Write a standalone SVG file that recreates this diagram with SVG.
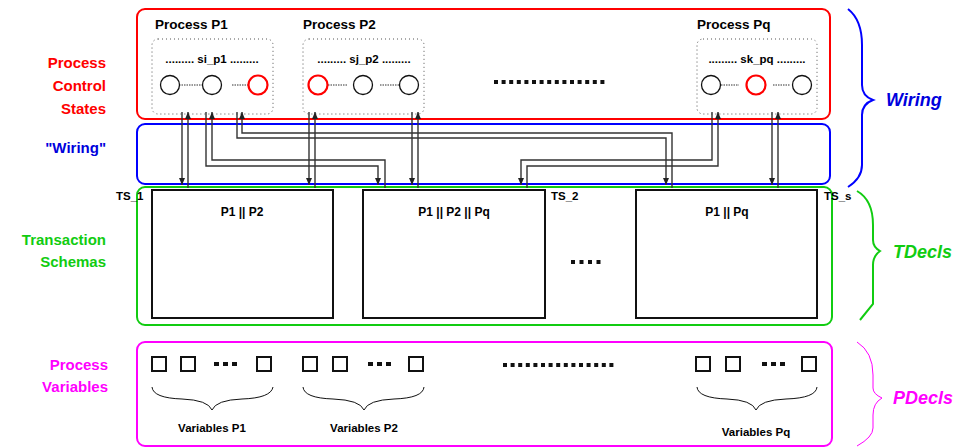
<svg xmlns="http://www.w3.org/2000/svg" width="961" height="447" viewBox="0 0 961 447">
<defs>
<marker id="ah" markerUnits="userSpaceOnUse" markerWidth="7" markerHeight="6" refX="7" refY="3" orient="auto"><path d="M0,0 L7,3 L0,6 z" fill="#222"/></marker>
<style>
text{font-family:"Liberation Sans",Arial,sans-serif;font-weight:bold}
.lab{font-size:15px;text-anchor:end}
.hd{font-size:13.5px}
.st{font-size:11.5px;text-anchor:middle}
.ts{font-size:11.5px}
.bx{font-size:12px;text-anchor:middle}
.br{font-size:18px;font-style:italic}
.dot{fill:none;stroke:#555;stroke-width:1;stroke-dasharray:1 3}
.c{fill:#fff;stroke:#111;stroke-width:1.3}
.cr{fill:#fff;stroke:#f00;stroke-width:2.2}
.cl{stroke:#333;stroke-width:1;stroke-dasharray:1.5 1}
.w{fill:none;stroke:#333;stroke-width:1.4}
.sq{fill:#fff;stroke:#111;stroke-width:2}
.tsb{fill:#fff;stroke:#111;stroke-width:2}
.vb{fill:none;stroke:#111;stroke-width:1}
.var{font-size:11.5px;text-anchor:middle}
.ell{stroke:#111;stroke-width:4;stroke-dasharray:5 4}
</style>
</defs>

<g id="regions">
<rect x="137" y="9" width="693" height="110" rx="8" fill="none" stroke="#f00" stroke-width="2"/>
<rect x="137" y="124" width="693" height="60" rx="8" fill="none" stroke="#00f" stroke-width="2"/>
<rect x="137" y="187" width="695" height="138" rx="8" fill="none" stroke="#1c1" stroke-width="2"/>
<rect x="137" y="342" width="695" height="104" rx="8" fill="none" stroke="#f0f" stroke-width="2"/>
</g>

<g id="left-labels">
<text class="lab" x="106" y="68" fill="#f00">Process</text>
<text class="lab" x="106" y="91" fill="#f00">Control</text>
<text class="lab" x="106" y="114" fill="#f00">States</text>
<text class="lab" x="106" y="153" fill="#00d">"Wiring"</text>
<text class="lab" x="106" y="245" fill="#1c1">Transaction</text>
<text class="lab" x="106" y="267" fill="#1c1">Schemas</text>
<text class="lab" x="108" y="370" fill="#f0f">Process</text>
<text class="lab" x="108" y="392" fill="#f0f">Variables</text>
</g>

<g id="process-p1">
<text class="hd" x="155" y="29">Process P1</text>
<rect class="dot" x="152" y="39" width="121" height="75" rx="6"/>
<text class="st" x="212" y="63">......... si_p1 .........</text>
<line class="cl" x1="179" y1="85" x2="203" y2="85"/>
<line class="cl" x1="232" y1="85" x2="248" y2="85"/>
<circle class="c" cx="170" cy="85" r="9.5"/>
<circle class="c" cx="212" cy="85" r="9.5"/>
<circle class="cr" cx="258" cy="85" r="9.5"/>
</g>

<g id="process-p2">
<text class="hd" x="303" y="29">Process P2</text>
<rect class="dot" x="303" y="39" width="121" height="75" rx="6"/>
<text class="st" x="364" y="63">......... sj_p2 .........</text>
<line class="cl" x1="328" y1="85" x2="347" y2="85"/>
<line class="cl" x1="380" y1="85" x2="399" y2="85"/>
<circle class="cr" cx="318" cy="85" r="9.5"/>
<circle class="c" cx="363" cy="85" r="9.5"/>
<circle class="c" cx="409" cy="85" r="9.5"/>
</g>

<g id="process-dots">
<line x1="494" y1="82" x2="608" y2="82" stroke="#111" stroke-width="4" stroke-dasharray="4 3.6"/>
</g>

<g id="process-pq">
<text class="hd" x="697" y="29">Process Pq</text>
<rect class="dot" x="697" y="39" width="120" height="75" rx="6"/>
<text class="st" x="757" y="63">......... sk_pq .........</text>
<line class="cl" x1="721" y1="85" x2="739" y2="85"/>
<line class="cl" x1="773" y1="85" x2="790" y2="85"/>
<circle class="c" cx="711" cy="85" r="9.5"/>
<circle class="cr" cx="756" cy="85" r="9.5"/>
<circle class="c" cx="802" cy="85" r="9.5"/>
</g>

<g id="ts1">
<rect class="tsb" x="152" y="190" width="181" height="128"/>
<text class="bx" x="242" y="216">P1 || P2</text>
<text class="ts" x="116" y="200">TS_1</text>
</g>
<g id="ts2">
<rect class="tsb" x="363" y="190" width="182" height="128"/>
<text class="bx" x="454" y="216">P1 || P2 || Pq</text>
<text class="ts" x="551" y="200">TS_2</text>
</g>
<g id="ts-dots">
<line x1="571" y1="262" x2="601" y2="262" stroke="#111" stroke-width="4" stroke-dasharray="4 4.5"/>
</g>
<g id="tss">
<rect class="tsb" x="636" y="190" width="181" height="128"/>
<text class="bx" x="727" y="216">P1 || Pq</text>
<text class="ts" x="824" y="200">TS_s</text>
</g>

<g id="connectors">
<path class="w" d="M182,112 V185" marker-end="url(#ah)"/>
<path class="w" d="M206,112 V166 H378 V185" marker-end="url(#ah)"/>
<path class="w" d="M237,112 V138 H666 V185" marker-end="url(#ah)"/>
<path class="w" d="M309,112 V185" marker-end="url(#ah)"/>
<path class="w" d="M412,112 V185" marker-end="url(#ah)"/>
<path class="w" d="M712,112 V160 H521 V185" marker-end="url(#ah)"/>
<path class="w" d="M772,112 V185" marker-end="url(#ah)"/>
<path class="w" d="M188,188 V112" marker-end="url(#ah)"/>
<path class="w" d="M385,188 V160 H212 V112" marker-end="url(#ah)"/>
<path class="w" d="M672,188 V133 H242 V112" marker-end="url(#ah)"/>
<path class="w" d="M315,188 V112" marker-end="url(#ah)"/>
<path class="w" d="M418,188 V112" marker-end="url(#ah)"/>
<path class="w" d="M527,188 V166 H718 V112" marker-end="url(#ah)"/>
<path class="w" d="M778,188 V112" marker-end="url(#ah)"/>
</g>

<g id="vars-p1">
<rect class="sq" x="152" y="357" width="14" height="14"/>
<rect class="sq" x="181" y="357" width="14" height="14"/>
<line class="ell" x1="214" y1="364" x2="237" y2="364"/>
<rect class="sq" x="257" y="357" width="14" height="14"/>
<path class="vb" d="M152,387 Q153,398 182,399 Q208,400 212,410 Q216,400 242,399 Q271,398 273,387"/>
<text class="var" x="212" y="432">Variables P1</text>
</g>
<g id="vars-p2">
<rect class="sq" x="303" y="357" width="14" height="14"/>
<rect class="sq" x="333" y="357" width="14" height="14"/>
<line class="ell" x1="368" y1="364" x2="391" y2="364"/>
<rect class="sq" x="409" y="357" width="14" height="14"/>
<path class="vb" d="M303,387 Q304,398 333,399 Q360,400 364,410 Q368,400 394,399 Q423,398 424,387"/>
<text class="var" x="364" y="432">Variables P2</text>
</g>
<g id="vars-dots">
<line x1="503" y1="365" x2="617" y2="365" stroke="#111" stroke-width="4" stroke-dasharray="4 3.6"/>
</g>
<g id="vars-pq">
<rect class="sq" x="696" y="357" width="14" height="14"/>
<rect class="sq" x="726" y="357" width="14" height="14"/>
<line class="ell" x1="762" y1="364" x2="785" y2="364"/>
<rect class="sq" x="802" y="357" width="14" height="14"/>
<path class="vb" d="M697,387 Q698,398 727,399 Q752,400 756,410 Q760,400 786,399 Q816,398 817,387"/>
<text class="var" x="756" y="436">Variables Pq</text>
</g>

<g id="brace-wiring">
<path d="M848,9 Q862,20 862,45 L862,85 Q862,96 873,100 Q862,104 862,115 L862,165 Q862,178 848,187" fill="none" stroke="#00f" stroke-width="2"/>
<text class="br" x="886" y="106" fill="#00d">Wiring</text>
</g>
<g id="brace-tdecls">
<path d="M857,191 Q873,200 873,225 L873,240 Q873,247 880,251 Q873,256 873,265 L873,304 L860,320" fill="none" stroke="#1c1" stroke-width="2"/>
<text class="br" x="893" y="258" fill="#1c1">TDecls</text>
</g>
<g id="brace-pdecls">
<path d="M857,342 Q873,352 873,375 L873,388 Q873,394 882,398 Q873,403 873,415 L873,428 Q873,437 857,446" fill="none" stroke="#f0f" stroke-width="1"/>
<text class="br" x="893" y="404" fill="#f0f">PDecls</text>
</g>
</svg>
